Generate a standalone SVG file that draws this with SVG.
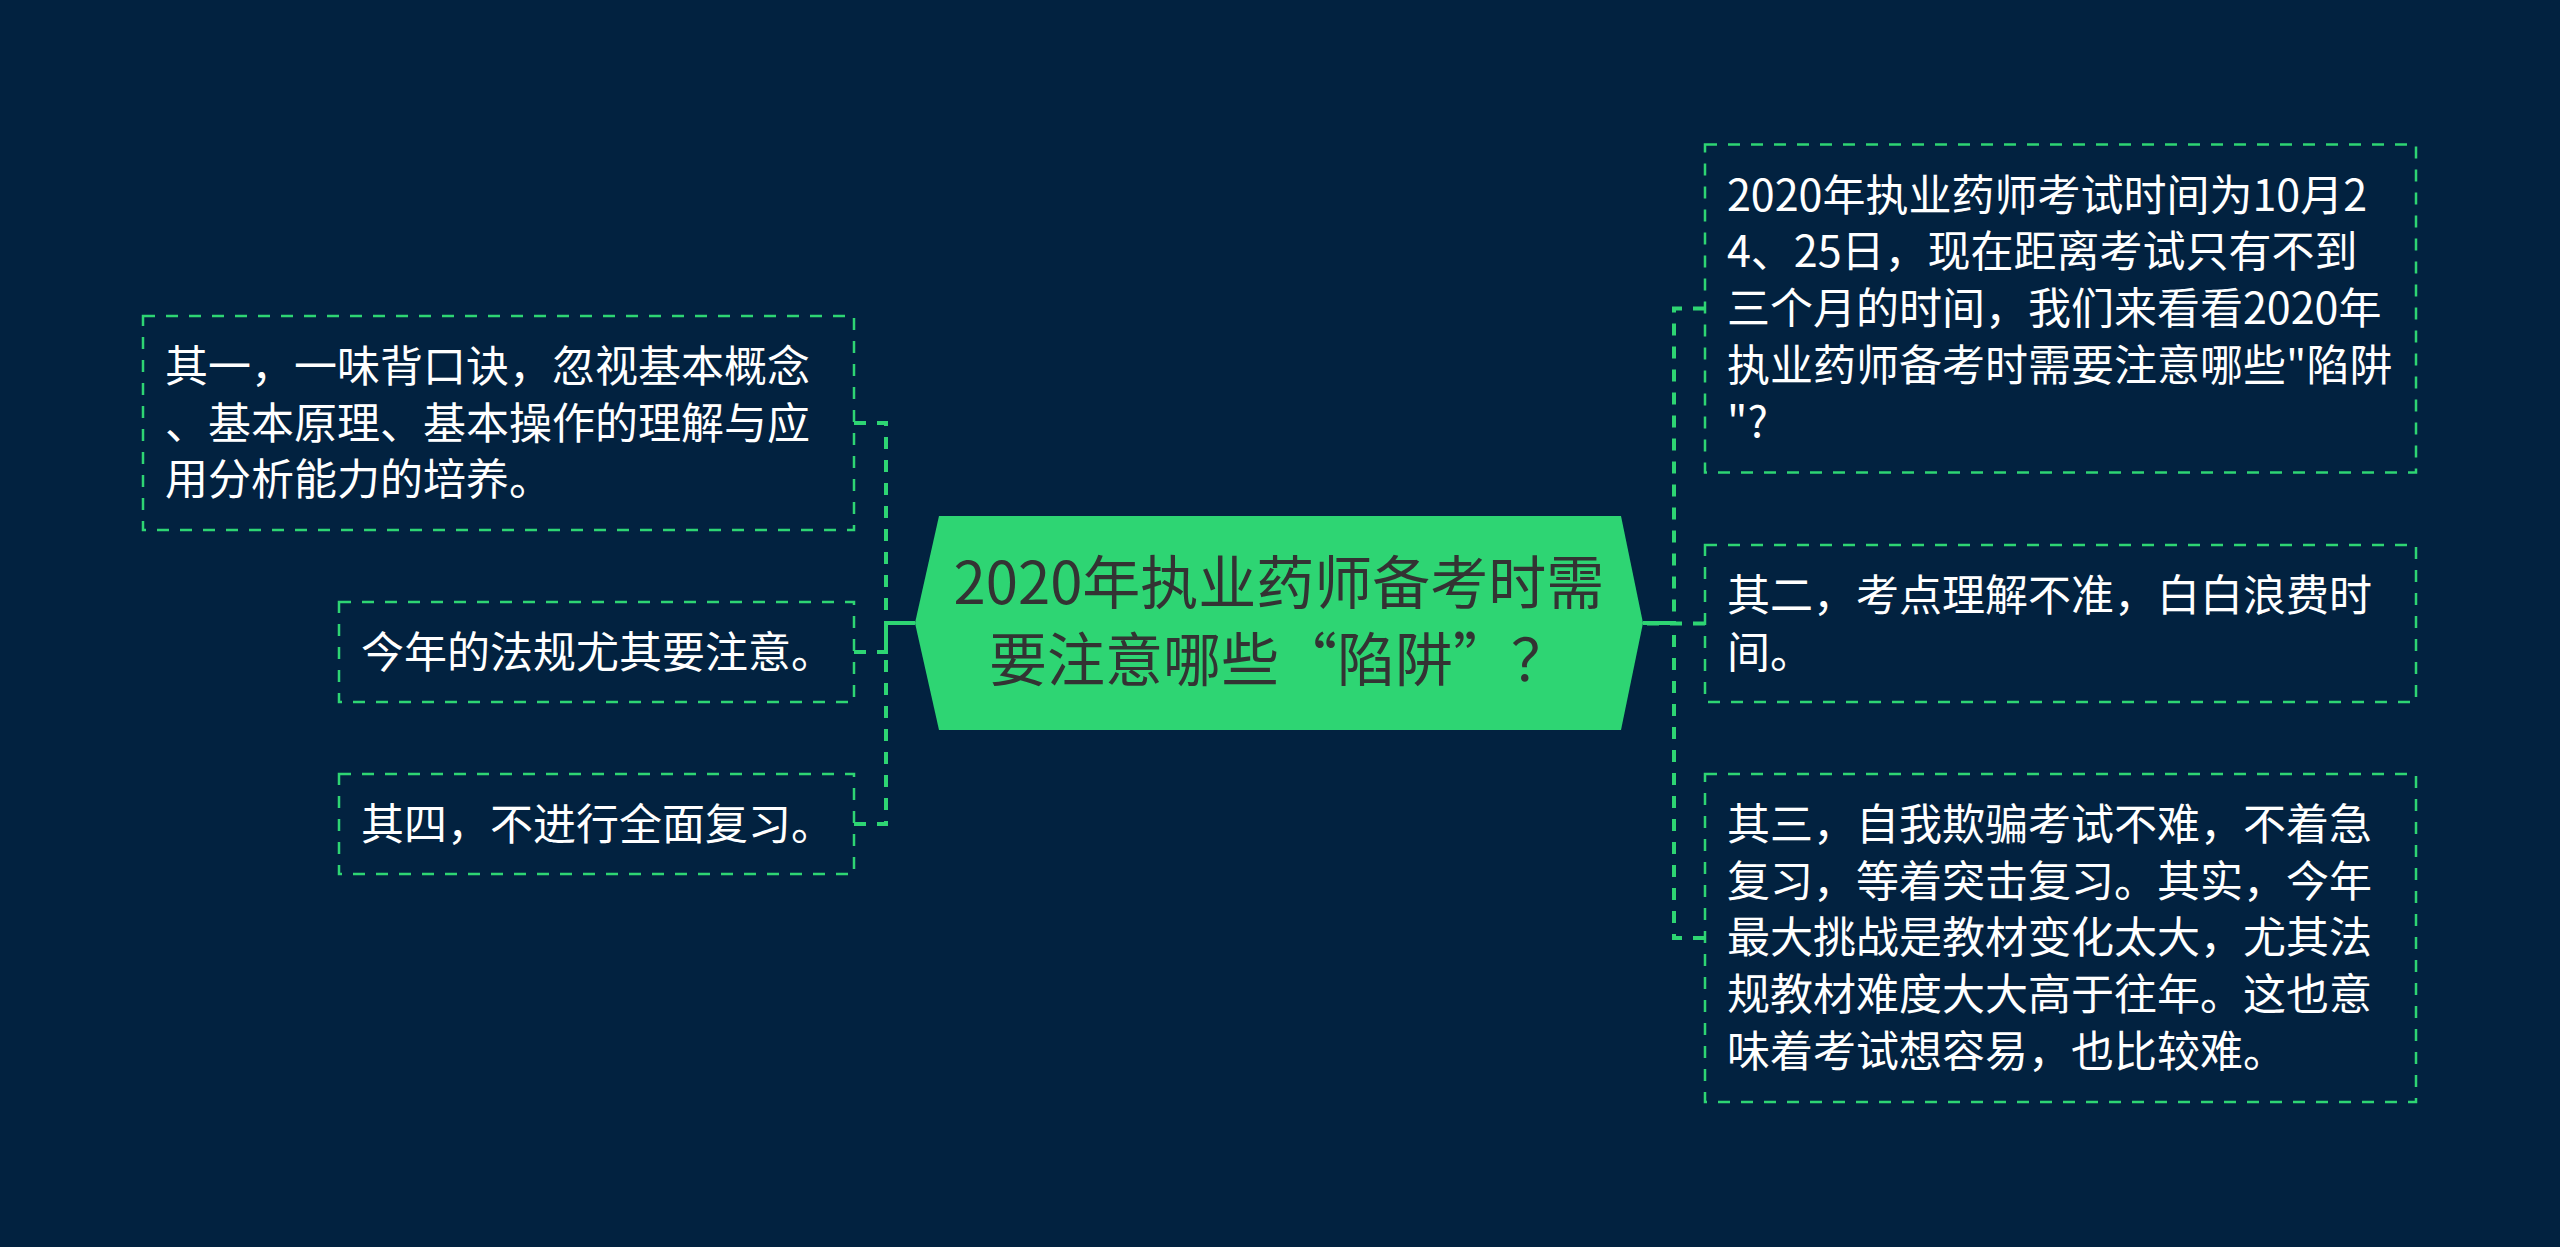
<svg xmlns="http://www.w3.org/2000/svg" width="2560" height="1247" viewBox="0 0 2560 1247">
<style>
.bg{fill:#022240}
.box{fill:none;stroke:#2ed573;stroke-width:2.5;stroke-dasharray:12 11}
.conn{fill:none;stroke:#2ed573;stroke-width:4;stroke-dasharray:12 11}
.solid{fill:none;stroke:#2ed573;stroke-width:4}
.t{font-family:"Noto Sans CJK SC","Microsoft YaHei","Noto Sans",sans-serif;font-size:43px;fill:#ffffff}
.ct{font-family:"Noto Sans CJK SC","Microsoft YaHei","Noto Sans",sans-serif;font-size:58px;fill:#333333;text-anchor:middle}
</style>
<rect class="bg" x="0" y="0" width="2560" height="1247"/>
<g id="connectors">
<path class="solid" d="M915,623 H886"/>
<path class="conn" d="M854,423 H886 V623 H915"/>
<path class="conn" d="M854,652 H886 V623 H915"/>
<path class="conn" d="M854,824 H886 V623 H915"/>
<path class="solid" d="M1643,623 H1674"/>
<path class="conn" d="M1705,308.5 H1674 V623 H1643"/>
<path class="conn" d="M1705,623.5 H1643"/>
<path class="conn" d="M1705,938 H1674 V623 H1643"/>
</g>
<g id="center">
<polygon points="915,623 939,516 1621,516 1643,623 1621,730 939,730" fill="#2ed573"/>
<text class="ct" x="1279" y="604">2020年执业药师备考时需</text>
<text class="ct" x="1279" y="681">要注意哪些“陷阱”？</text>
</g>
<g id="node-l1">
<rect class="box" x="143" y="316" width="711" height="214"/>
<text class="t" x="165" y="382">其一，一味背口诀，忽视基本概念</text>
<text class="t" x="165" y="438.7">、基本原理、基本操作的理解与应</text>
<text class="t" x="165" y="495.4">用分析能力的培养。</text>
</g>
<g id="node-l2">
<rect class="box" x="339" y="602" width="515" height="100"/>
<text class="t" x="361" y="668">今年的法规尤其要注意。</text>
</g>
<g id="node-l3">
<rect class="box" x="339" y="774" width="515" height="100"/>
<text class="t" x="361" y="840">其四，不进行全面复习。</text>
</g>
<g id="node-r1">
<rect class="box" x="1705" y="144.5" width="711" height="328"/>
<text class="t" x="1727" y="210.5">2020年执业药师考试时间为10月2</text>
<text class="t" x="1727" y="267.2">4、25日，现在距离考试只有不到</text>
<text class="t" x="1727" y="323.9">三个月的时间，我们来看看2020年</text>
<text class="t" x="1727" y="380.6">执业药师备考时需要注意哪些"陷阱</text>
<text class="t" x="1727" y="437.3">"?</text>
</g>
<g id="node-r2">
<rect class="box" x="1705" y="545" width="711" height="157"/>
<text class="t" x="1727" y="611">其二，考点理解不准，白白浪费时</text>
<text class="t" x="1727" y="667.7">间。</text>
</g>
<g id="node-r3">
<rect class="box" x="1705" y="774" width="711" height="328"/>
<text class="t" x="1727" y="840">其三，自我欺骗考试不难，不着急</text>
<text class="t" x="1727" y="896.7">复习，等着突击复习。其实，今年</text>
<text class="t" x="1727" y="953.4">最大挑战是教材变化太大，尤其法</text>
<text class="t" x="1727" y="1010.1">规教材难度大大高于往年。这也意</text>
<text class="t" x="1727" y="1066.8">味着考试想容易，也比较难。</text>
</g>
</svg>
